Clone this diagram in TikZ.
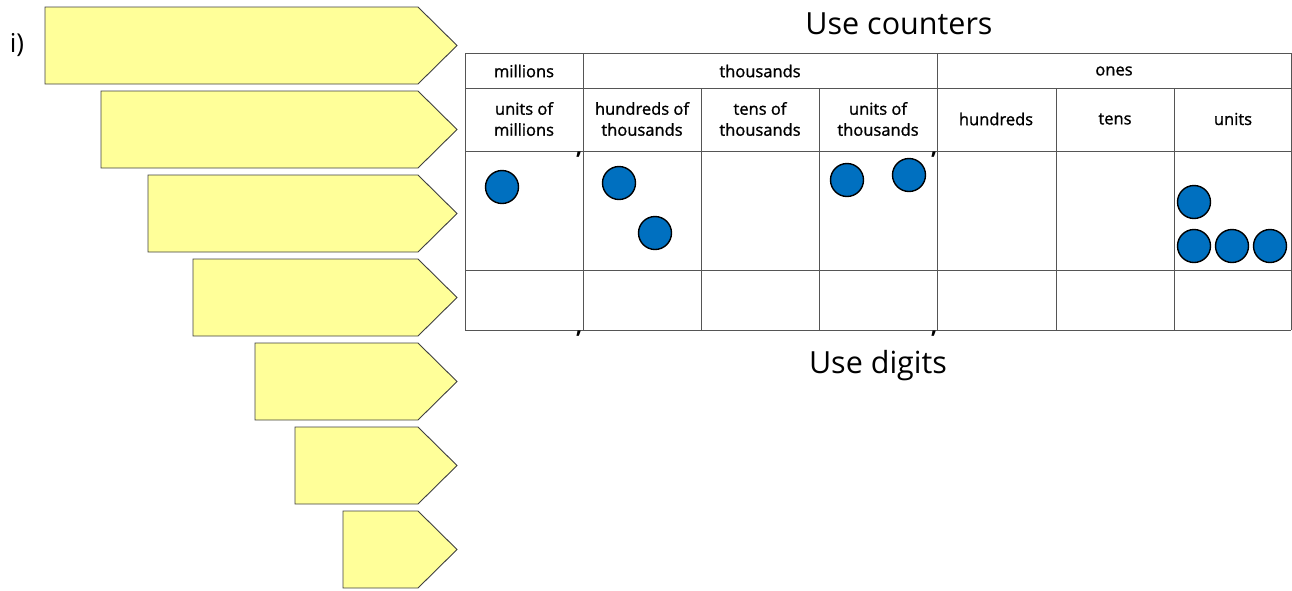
\documentclass[tikz,border=0pt]{standalone}
\usepackage{fontspec}
\setmainfont{Open Sans}
\newfontfamily\headfont{Open Sans}[FakeBold=1.2]
\definecolor{arrowfill}{HTML}{FFFF99}
\definecolor{arrowline}{HTML}{404040}
\definecolor{gridline}{HTML}{555555}
\definecolor{counterblue}{HTML}{0070C0}
\tikzset{
  arrowbox/.style={fill=arrowfill, draw=arrowline, line width=0.9pt, line join=miter},
  gridrule/.style={draw=gridline, line width=1pt},
  headtext/.style={font=\headfont\fontsize{16.5}{21}\selectfont, align=center, inner sep=0pt},
  title/.style={font=\fontsize{30.5}{34}\selectfont, inner sep=0pt},
  counter/.style={circle, fill=counterblue, draw=black, line width=1.4pt, minimum size=33pt, inner sep=0pt},
  sep/.style={font=\bfseries\fontsize{22}{22}\selectfont, inner sep=0pt, anchor=north}
}
\begin{document}
\begin{tikzpicture}[x=1pt, y=-1pt]
  \useasboundingbox (0,0) rectangle (1292,590);

  % label of the exercise
  \node[title, font=\fontsize{26}{30}\selectfont] (label) at (17,45) {i)};

  % staircase of blank answer arrows
  \foreach \l/\t in {45/7, 101/91, 148/175, 193/259, 255/343, 295/427, 343/511}
    \draw[arrowbox] (\l,\t) -- (418,\t) -- (457,{\t+38.5}) -- (418,{\t+77}) -- (\l,{\t+77}) -- cycle;

  % headings
  \node[title] (counters) at (899,24) {Use counters};
  \node[title] (digits) at (878,366) {Use digits};

  % place value grid
  \foreach \y in {53, 88, 151, 270, 330}
    \draw[gridrule] (465,\y) -- (1291,\y);
  \foreach \x in {465, 583, 937, 1291}
    \draw[gridrule] (\x,53) -- (\x,330);
  \foreach \x in {701, 819, 1056, 1174}
    \draw[gridrule] (\x,88) -- (\x,330);

  % group headings
  \node[headtext] (millions) at (524,71) {millions};
  \node[headtext] (thousands) at (760,71) {thousands};
  \node[headtext] (ones) at (1114,71) {ones};

  % column headings
  \node[headtext] (um) at (524,119) {units of\\millions};
  \node[headtext] (ht) at (642,119) {hundreds of\\thousands};
  \node[headtext] (tt) at (760,119) {tens of\\thousands};
  \node[headtext] (ut) at (878,119) {units of\\thousands};
  \node[headtext] (h) at (996,119) {hundreds};
  \node[headtext] (t) at (1115,119) {tens};
  \node[headtext] (u) at (1233,119) {units};

  % group separators
  \node[sep] (s1) at (579,152) {,};
  \node[sep] (s2) at (934,152) {,};
  \node[sep] (s3) at (579,331) {,};
  \node[sep] (s4) at (934,331) {,};

  % counters
  \node[counter] (m1) at (502,187) {};
  \node[counter] (ht1) at (619,183) {};
  \node[counter] (ht2) at (655,233) {};
  \node[counter] (ut1) at (847,180) {};
  \node[counter] (ut2) at (909,175) {};
  \node[counter] (u1) at (1194,202) {};
  \node[counter] (u2) at (1194,246) {};
  \node[counter] (u3) at (1232,246) {};
  \node[counter] (u4) at (1270,246) {};
\end{tikzpicture}
\end{document}
